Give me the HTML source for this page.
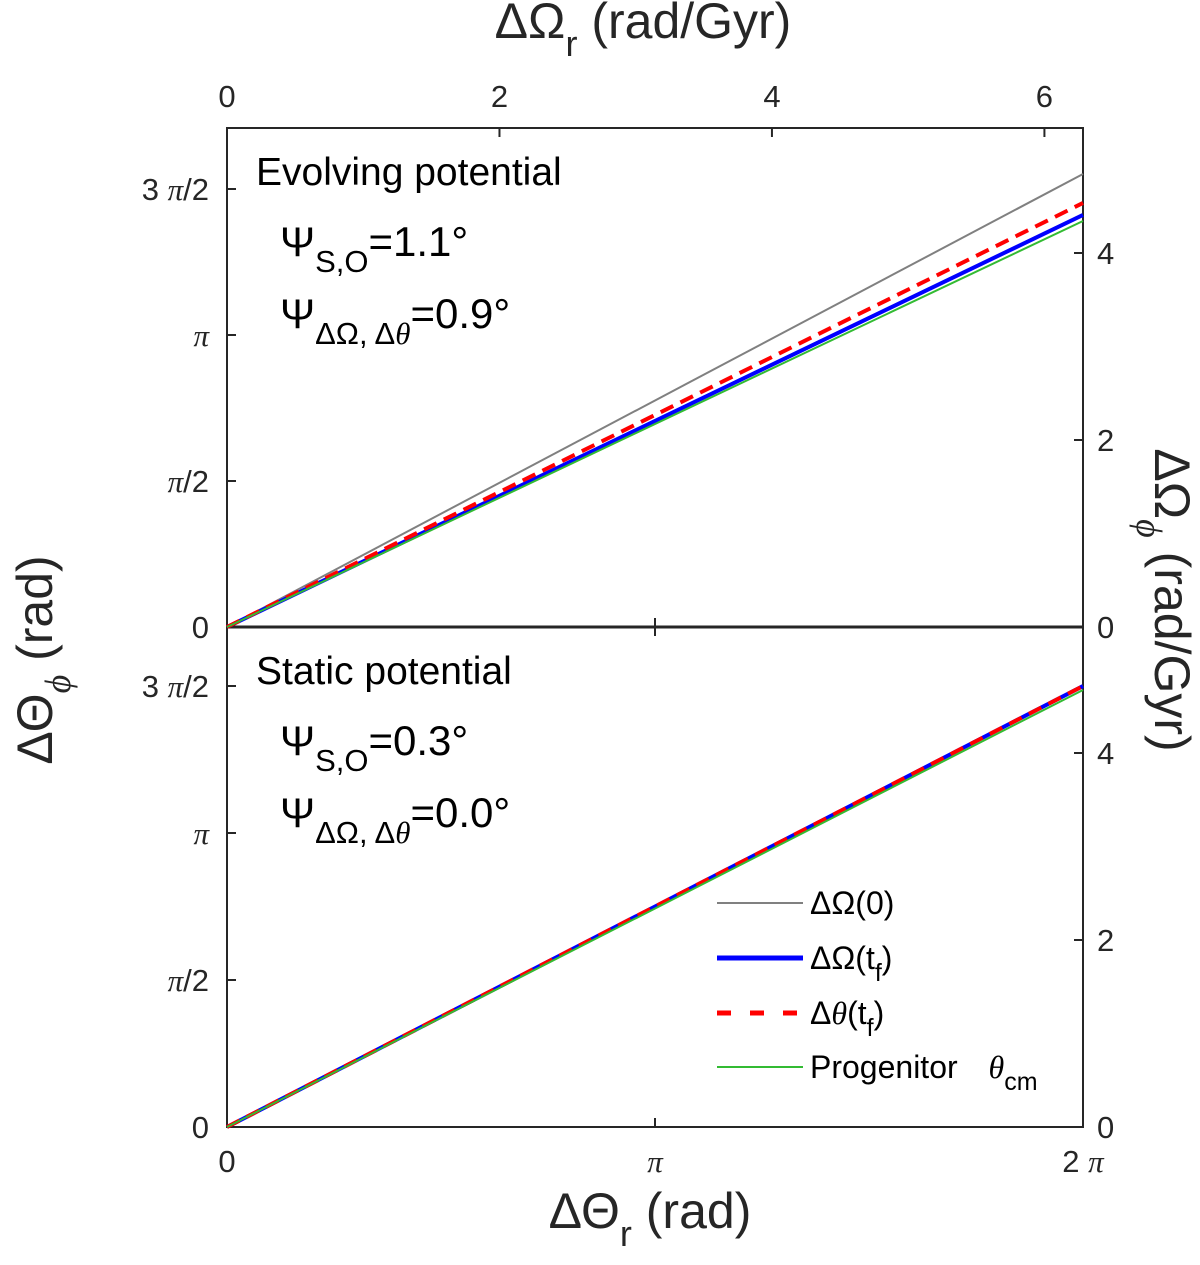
<!DOCTYPE html>
<html><head><meta charset="utf-8"><style>
body{margin:0;background:#fff;width:1200px;height:1260px;overflow:hidden}
svg{font-family:"Liberation Sans",sans-serif}
.pi{font-family:"Liberation Serif",serif;font-style:italic}
</style></head><body>
<svg id="chart" width="1200" height="1260">
<g id="axes" stroke="#262626" stroke-width="2" fill="none">
<rect x="227" y="128" width="856" height="999"/>
<line x1="227" y1="627" x2="1083" y2="627" stroke-width="3"/>
</g>
<g id="ticks" stroke="#262626" stroke-width="2"></g>
<g id="series"></g>
<g id="labels" font-size="31" fill="#262626"></g>
<text x="643" y="38" font-size="50" text-anchor="middle" fill="#262626">ΔΩ<tspan font-size="36" dy="18">r</tspan><tspan dy="-18"> (rad/Gyr)</tspan></text>
<text x="650" y="1228" font-size="50" text-anchor="middle" fill="#262626">ΔΘ<tspan font-size="36" dy="18">r</tspan><tspan dy="-18"> (rad)</tspan></text>
<text transform="translate(52,660) rotate(-90)" font-size="50" text-anchor="middle" fill="#262626">ΔΘ<tspan font-size="36" dy="18" class="pi">ϕ</tspan><tspan dy="-18"> (rad)</tspan></text>
<text transform="translate(1155,600) rotate(90)" font-size="50" text-anchor="middle" fill="#262626">ΔΩ<tspan font-size="36" dy="18" class="pi">ϕ</tspan><tspan dy="-18"> (rad/Gyr)</tspan></text>
<text x="256" y="185" font-size="39">Evolving potential</text>
<text x="280" y="256" font-size="42">Ψ<tspan font-size="31" dy="16">S,O</tspan><tspan dy="-16">=1.1°</tspan></text>
<text x="280" y="328" font-size="42">Ψ<tspan font-size="31" dy="16">ΔΩ, Δ<tspan class="pi">θ</tspan></tspan><tspan dy="-16">=0.9°</tspan></text>
<text x="256" y="684" font-size="39">Static potential</text>
<text x="280" y="755" font-size="42">Ψ<tspan font-size="31" dy="16">S,O</tspan><tspan dy="-16">=0.3°</tspan></text>
<text x="280" y="827" font-size="42">Ψ<tspan font-size="31" dy="16">ΔΩ, Δ<tspan class="pi">θ</tspan></tspan><tspan dy="-16">=0.0°</tspan></text>
<g font-size="32">
<line x1="717" y1="903" x2="803" y2="903" stroke="#808080" stroke-width="2"/>
<text x="810" y="914">ΔΩ(0)</text>
<line x1="717" y1="958" x2="803" y2="958" stroke="#0000ff" stroke-width="5"/>
<text x="810" y="969">ΔΩ(t<tspan font-size="25" dy="12">f</tspan><tspan dy="-12">)</tspan></text>
<line x1="717" y1="1013" x2="803" y2="1013" stroke="#ff0000" stroke-width="5" stroke-dasharray="14,19"/>
<text x="810" y="1024">Δ<tspan class="pi">θ</tspan>(t<tspan font-size="25" dy="12">f</tspan><tspan dy="-12">)</tspan></text>
<line x1="717" y1="1067" x2="803" y2="1067" stroke="#33bb33" stroke-width="2"/>
<text x="810" y="1078">Progenitor <tspan class="pi" dx="22">θ</tspan><tspan font-size="25" dy="12">cm</tspan></text>
</g>
</svg>
<script>
const PI=Math.PI;
const seriesNames=["omega0","omegaTf","thetaTf","progenitor"];
const xEnd=[0,2*PI];
const topEnd=[4.874,4.433,4.562,4.368];
const botEnd=[4.712,4.712,4.712,4.670];
const colors={omega0:"#808080",omegaTf:"#0000ff",thetaTf:"#ff0000",progenitor:"#33bb33"};
const widths={omega0:2,omegaTf:4,thetaTf:4,progenitor:2};
const yTicks=[0,PI/2,PI,3*PI/2];
const yTickLabels=["0","π/2","π","3 π/2"];
const xTicks=[0,PI,2*PI];
const xTickLabels=["0","π","2 π"];
const topTicks=[0,2,4,6];
const rightTicks=[0,2,4];
const NS="http://www.w3.org/2000/svg";
const X0=227,X1=1083;
const xS=v=>X0+v/(2*PI)*(X1-X0);
const yTopP=v=>627-v/(PI/2)*146;
const yBotP=v=>1127-v/(PI/2)*147;
const yRTop=v=>627-v/2*187;
const yRBot=v=>1127-v/2*187;
function mk(tag,attrs,parent,text){const e=document.createElementNS(NS,tag);for(const k in attrs)e.setAttribute(k,attrs[k]);document.getElementById(parent).appendChild(e);
 if(text!==undefined){text.split(/(π)/).forEach(s=>{if(!s)return;const t=document.createElementNS(NS,"tspan");if(s==="π")t.setAttribute("class","pi");t.textContent=s;e.appendChild(t);});}
 return e;}
yTicks.forEach((v,i)=>{[yTopP,yBotP].forEach(f=>{
 const y=f(v);
 const t=mk("line",{x1:227,x2:236,y1:y,y2:y},"ticks");
 
 
 const l=mk("text",{x:209,y:y+11,"text-anchor":"end"},"labels",yTickLabels[i]);
 
 
});});
xTicks.forEach((v,i)=>{const x=xS(v);
 [[1127,1118],[627,618],[627,636]].forEach(a=>{const t=mk("line",{x1:x,x2:x,y1:a[0],y2:a[1]},"ticks");
 
 });
 const l=mk("text",{x:x,y:1172,"text-anchor":"middle"},"labels",xTickLabels[i]);
 
 
});
topTicks.forEach(v=>{const x=X0+v/(2*PI)*(X1-X0);
 const t=mk("line",{x1:x,x2:x,y1:128,y2:137},"ticks");
 
 
 const l=mk("text",{x:x,y:107,"text-anchor":"middle"},"labels",String(v));
 
 
});
rightTicks.forEach(v=>{[yRTop,yRBot].forEach(f=>{const y=f(v);
 const t=mk("line",{x1:1074,x2:1083,y1:y,y2:y},"ticks");
 
 
 const l=mk("text",{x:1097,y:y+11},"labels",String(v));
 
 
});});
[[topEnd,yTopP,"top"],[botEnd,yBotP,"bottom"]].forEach(([ends,f,panel])=>{
 seriesNames.forEach((n,i)=>{
  const a={x1:xS(xEnd[0]),y1:f(0),x2:xS(xEnd[1]),y2:f(ends[i]),stroke:colors[n],"stroke-width":widths[n]};
  if(n==="thetaTf")a["stroke-dasharray"]="14,8";
  const e=mk("line",a,"series");
  
  
 });
});
</script>
</body></html>
